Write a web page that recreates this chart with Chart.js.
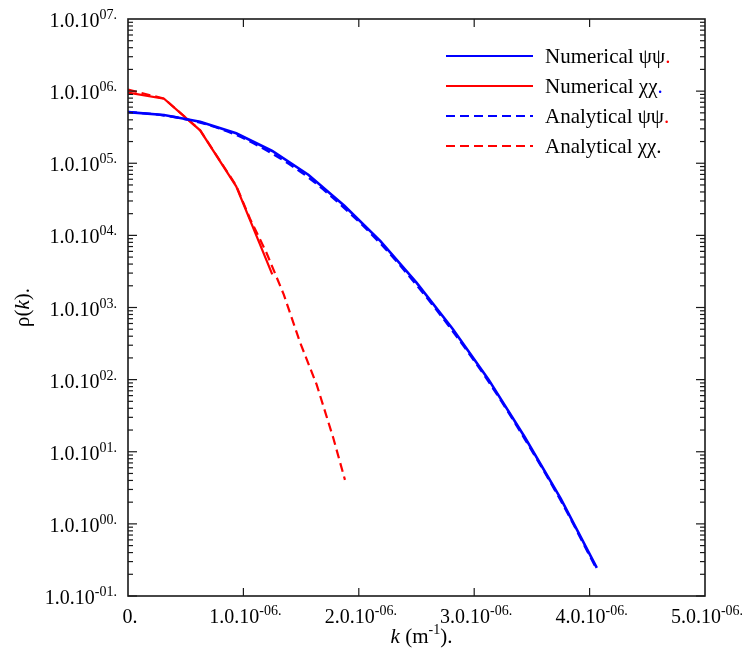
<!DOCTYPE html>
<html><head><meta charset="utf-8">
<script src="https://cdn.jsdelivr.net/npm/chart.js@4/dist/chart.umd.min.js"></script>
<style>html,body{margin:0;padding:0;background:#fff;} #wrap{width:742px;height:660px;}</style>
</head><body><div id="wrap"><canvas id="c" width="742" height="660"></canvas></div>
<script>
// ---- data ----
const kNumPsi = [0, 3.125e-7, 6.25e-7, 9.375e-7, 1.25e-6, 1.5625e-6, 1.875e-6, 2.1875e-6, 2.5e-6, 2.8125e-6, 3.125e-6, 3.4375e-6, 3.75e-6, 4.0625e-6];
const rhoNumPsi = [5.12e5, 4.66e5, 3.76e5, 2.60e5, 1.48e5, 6.92e4, 2.57e4, 8.32e3, 2.21e3, 507, 100, 16.0, 2.24, 0.245];
const kNumChi = [0, 3.125e-7, 6.25e-7, 9.375e-7, 1.25e-6];
const rhoNumChi = [9.55e5, 7.85e5, 2.86e5, 4.79e4, 2.88e3];
const kAnaPsi = [0, 3.125e-7, 6.25e-7, 9.375e-7, 1.25e-6, 1.5625e-6, 1.875e-6, 2.1875e-6, 2.5e-6, 2.8125e-6, 3.125e-6, 3.4375e-6, 3.75e-6, 4.0625e-6];
const rhoAnaPsi = [5.15e5, 4.60e5, 3.67e5, 2.47e5, 1.36e5, 6.38e4, 2.39e4, 7.73e3, 2.06e3, 473, 93.8, 15.1, 2.11, 0.234];
const kAnaChi = [0, 3.125e-7, 6.25e-7, 9.375e-7, 1.057e-6, 1.20e-6, 1.35e-6, 1.49e-6, 1.635e-6, 1.779e-6, 1.88e-6];
const rhoAnaChi = [1.047e6, 7.88e5, 2.87e5, 4.90e4, 1.70e4, 5750, 1510, 331, 85.1, 15.5, 4.07];

const seriesLabels = ['Numerical ψψ', 'Numerical χχ', 'Analytical ψψ', 'Analytical χχ'];
const xTickValues = [0, 1e-6, 2e-6, 3e-6, 4e-6, 5e-6];
const xTickBase = ['0.', '1.0.10', '2.0.10', '3.0.10', '4.0.10', '5.0.10'];
const xTickSup = ['', '-06.', '-06.', '-06.', '-06.', '-06.'];
const yTickValues = [1e-1, 1e0, 1e1, 1e2, 1e3, 1e4, 1e5, 1e6, 1e7];
const yTickBase = ['1.0.10', '1.0.10', '1.0.10', '1.0.10', '1.0.10', '1.0.10', '1.0.10', '1.0.10', '1.0.10'];
const yTickSup = ['-01.', '00.', '01.', '02.', '03.', '04.', '05.', '06.', '07.'];

const FONT = '"Liberation Serif", "Times New Roman", serif';
const BLUE = '#0000ff', RED = '#ff0000';

function pts(ks, vs) { return ks.map((k, i) => ({ x: k, y: vs[i] })); }

function drawRuns(ctx, runs, x, baseY) {
  let cx = x;
  runs.forEach(r => {
    ctx.font = (r.italic ? 'italic ' : '') + r.size + 'px ' + FONT;
    ctx.fillStyle = r.color || '#000';
    ctx.fillText(r.t, cx, baseY + (r.dy || 0));
    cx += ctx.measureText(r.t).width;
  });
  return cx - x;
}
function runsWidth(ctx, runs) {
  let w = 0;
  runs.forEach(r => { ctx.font = (r.italic ? 'italic ' : '') + r.size + 'px ' + FONT; w += ctx.measureText(r.t).width; });
  return w;
}

const framePlugin = {
  id: 'frame',
  afterDraw(chart) {
    const { ctx, chartArea: a, scales: { x, y } } = chart;
    ctx.save();
    ctx.textAlign = 'left';
    ctx.textBaseline = 'alphabetic';
    ctx.strokeStyle = '#1a1a1a';
    ctx.lineWidth = 1.6;
    ctx.strokeRect(a.left, a.top, a.right - a.left, a.bottom - a.top);
    ctx.lineWidth = 1.2;
    const seg = (x1, y1, x2, y2) => { ctx.beginPath(); ctx.moveTo(x1, y1); ctx.lineTo(x2, y2); ctx.stroke(); };
    xTickValues.forEach(v => {
      const px = x.getPixelForValue(v);
      if (px <= a.left + 1 || px >= a.right - 1) return;
      seg(px, a.bottom, px, a.bottom - 8);
      seg(px, a.top, px, a.top + 8);
    });
    for (let d = -1; d < 7; d++) {
      for (let m = 1; m <= 9; m++) {
        const v = m * Math.pow(10, d);
        const py = y.getPixelForValue(v);
        const len = m === 1 ? 9 : 5;
        seg(a.left, py, a.left + len, py);
        seg(a.right, py, a.right - len, py);
      }
    }
    yTickValues.forEach((v, i) => {
      const py = y.getPixelForValue(v);
      const runs = [{ t: yTickBase[i], size: 20 }, { t: yTickSup[i], size: 14, dy: -8 }];
      const w = runsWidth(ctx, runs);
      drawRuns(ctx, runs, a.left - 11 - w, py + 8);
    });
    xTickValues.forEach((v, i) => {
      const px = x.getPixelForValue(v);
      const runs = [{ t: xTickBase[i], size: 20 }];
      if (xTickSup[i]) runs.push({ t: xTickSup[i], size: 14, dy: -8 });
      const w = runsWidth(ctx, runs);
      drawRuns(ctx, runs, px + 2 - w / 2, 623);
    });
    const xt = [{ t: 'k', size: 21, italic: true }, { t: ' (m', size: 21 }, { t: '-1', size: 14, dy: -9 }, { t: ').', size: 21 }];
    const xtw = runsWidth(ctx, xt);
    drawRuns(ctx, xt, (a.left + a.right) / 2 + 5 - xtw / 2, 643);
    ctx.save();
    ctx.translate(29, (a.top + a.bottom) / 2);
    ctx.rotate(-Math.PI / 2);
    const yt = [{ t: 'ρ(', size: 21 }, { t: 'k', size: 21, italic: true }, { t: ').', size: 21 }];
    const ytw = runsWidth(ctx, yt);
    drawRuns(ctx, yt, -ytw / 2, 0);
    ctx.restore();
    const dotColors = [RED, BLUE, RED, '#000'];
    chart.data.datasets.forEach((ds, i) => {
      const ly = 56 + 30 * i;
      ctx.strokeStyle = ds.borderColor;
      ctx.lineWidth = 2;
      ctx.setLineDash(ds.borderDash || []);
      seg(446, ly, 533, ly);
      ctx.setLineDash([]);
      const parts = ds.label.split(' ');
      drawRuns(ctx, [{ t: parts[0] + ' ', size: 21 }, { t: parts[1], size: 21 }, { t: '.', size: 21, color: dotColors[i] }], 545, ly + 7);
    });
    ctx.restore();
  }
};

new Chart(document.getElementById('c'), {
  type: 'line',
  data: {
    datasets: [
      { label: seriesLabels[0], data: pts(kNumPsi, rhoNumPsi), borderColor: BLUE, borderWidth: 2.6, pointRadius: 0, tension: 0 },
      { label: seriesLabels[1], data: pts(kNumChi, rhoNumChi), borderColor: RED, borderWidth: 2.2, pointRadius: 0, tension: 0 },
      { label: seriesLabels[2], data: pts(kAnaPsi, rhoAnaPsi), borderColor: BLUE, borderWidth: 2.4, borderDash: [9, 5], pointRadius: 0, cubicInterpolationMode: 'monotone' },
      { label: seriesLabels[3], data: pts(kAnaChi, rhoAnaChi), borderColor: RED, borderWidth: 2.2, borderDash: [9, 5], pointRadius: 0, tension: 0 }
    ]
  },
  options: {
    responsive: false,
    animation: false,
    layout: { padding: { left: 128, top: 19, right: 37, bottom: 64 } },
    plugins: { legend: { display: false }, tooltip: { enabled: false } },
    scales: {
      x: { type: 'linear', min: 0, max: 5e-6, display: false },
      y: { type: 'logarithmic', min: 0.1, max: 1e7, display: false }
    }
  },
  plugins: [framePlugin]
});
</script>
</body></html>
